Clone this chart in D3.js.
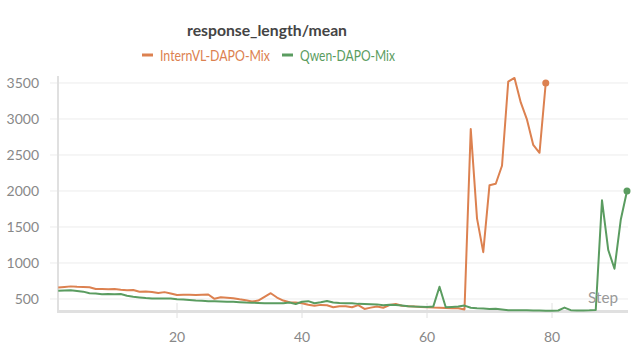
<!DOCTYPE html>
<html><head><meta charset="utf-8">
<script src="https://cdn.jsdelivr.net/npm/d3@7"></script>
<style>body{margin:0;background:#fff;} text{font-family:Lato,"Open Sans",sans-serif;}</style>
</head><body><svg id="c" width="638" height="350"></svg>
<script>
const title = "response_length/mean";
const seriesNames = ["InternVL-DAPO-Mix", "Qwen-DAPO-Mix"];
const seriesColors = ["#dc8150", "#5a9c60"];
const internvl = [660,668,675,670,668,662,638,640,636,638,628,622,625,600,604,598,582,595,575,555,558,560,555,560,562,502,525,518,510,495,482,465,478,530,580,520,478,455,450,440,420,405,418,412,386,398,400,385,415,362,380,395,378,415,430,405,400,395,390,385,380,378,375,372,372,355,2860,1620,1150,2080,2100,2350,3520,3570,3230,2990,2640,2530,3500];
const qwen = [615,618,620,612,602,580,575,565,568,565,568,545,532,522,512,508,505,508,505,495,492,485,478,475,470,468,465,462,460,456,450,448,445,442,440,440,442,452,430,462,470,440,455,472,450,445,442,440,432,430,428,425,412,420,415,408,400,395,392,388,394,670,384,390,395,408,378,372,368,362,365,355,345,345,343,342,340,340,338,338,340,380,345,340,340,342,348,1870,1180,920,1600,2000];
const yTicks = [500,1000,1500,2000,2500,3000,3500];
const xTicks = [20,40,60,80];
const xLabel = "Step";

const svg = d3.select("#c");
const x = d3.scaleLinear().domain([1, 92]).range([58.25, 627]);
const y = d3.scaleLinear().domain([333, 3583]).range([311, 77]);

svg.append("g").selectAll("line").data(yTicks).join("line")
  .attr("x1", 50).attr("x2", 628).attr("y1", d => y(d)).attr("y2", d => y(d))
  .attr("stroke", "#ececec").attr("stroke-width", 1);
svg.append("line").attr("x1", 58).attr("x2", 58).attr("y1", 76).attr("y2", 312)
  .attr("stroke", "#e0e0e0").attr("stroke-width", 2);
svg.append("line").attr("x1", 57).attr("x2", 628).attr("y1", 311.5).attr("y2", 311.5)
  .attr("stroke", "#e0e0e0").attr("stroke-width", 3);
svg.append("g").selectAll("line").data(xTicks).join("line")
  .attr("x1", d => x(d)).attr("x2", d => x(d)).attr("y1", 303).attr("y2", 318)
  .attr("stroke", "#e0e0e0").attr("stroke-width", 1);
svg.append("g").selectAll("text").data(xTicks).join("text")
  .attr("x", d => x(d)).attr("y", 342).attr("text-anchor", "middle")
  .attr("font-size", 14).attr("fill", "#888").text(d => d);
svg.append("g").selectAll("text").data(yTicks).join("text")
  .attr("x", 39).attr("y", d => y(d) + 5).attr("text-anchor", "end")
  .attr("font-size", 14).attr("fill", "#888").text(d => d);

const line = d3.line().x((d, i) => x(i + 1)).y(d => y(d));
[internvl, qwen].forEach((s, k) => {
  svg.append("path").datum(s).attr("d", line).attr("fill", "none")
    .attr("stroke", seriesColors[k]).attr("stroke-width", 2).attr("stroke-linejoin", "round");
  svg.append("circle").attr("cx", x(s.length)).attr("cy", y(s[s.length - 1])).attr("r", 3.5)
    .attr("fill", seriesColors[k]);
});

svg.append("text").attr("x", 588).attr("y", 303).attr("text-anchor", "start")
  .attr("font-size", 15).attr("fill", "#999").attr("textLength", 30).attr("lengthAdjust", "spacingAndGlyphs").text(xLabel);

svg.append("text").attr("x", 267).attr("y", 36).attr("text-anchor", "middle")
  .attr("font-size", 16).attr("font-weight", "bold").attr("fill", "#444")
  .attr("textLength", 160).attr("lengthAdjust", "spacingAndGlyphs").text(title);

const legX = [142, 282];
const legW = [110, 95];
seriesNames.forEach((n, k) => {
  svg.append("line").attr("x1", legX[k]).attr("x2", legX[k] + 11).attr("y1", 55).attr("y2", 55)
    .attr("stroke", seriesColors[k]).attr("stroke-width", 3);
  svg.append("text").attr("x", legX[k] + 18).attr("y", 60.5).attr("font-size", 15)
    .attr("fill", seriesColors[k]).attr("textLength", legW[k]).attr("lengthAdjust", "spacingAndGlyphs").text(n);
});
</script></body></html>
